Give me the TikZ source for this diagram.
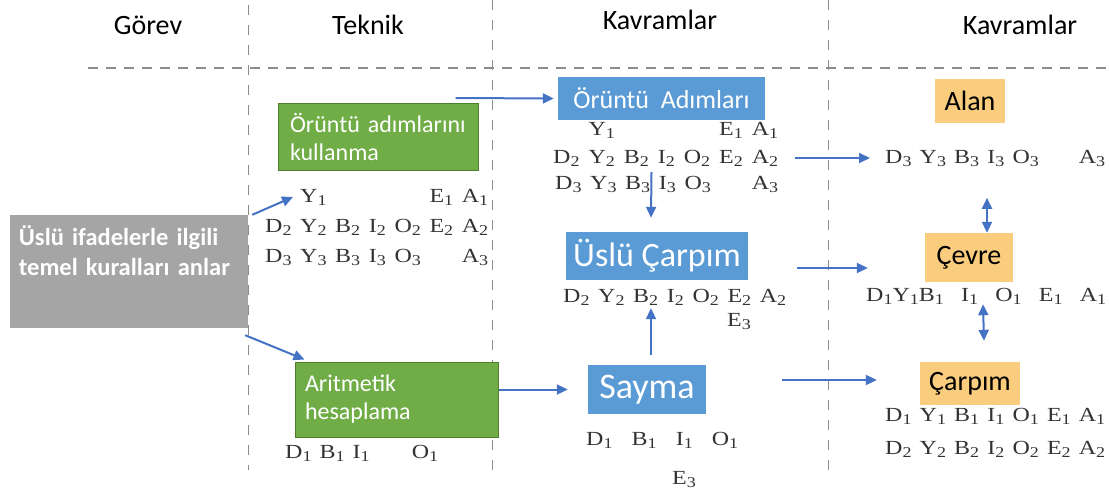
\documentclass[tikz,border=0pt]{standalone}
\usepackage{fontspec}
\setmainfont{Liberation Serif}
\newfontfamily\calibri{Carlito}
\newfontfamily\reihenfont[FakeStretch=1.2]{Liberation Serif}
\usetikzlibrary{arrows.meta}

\definecolor{gruen}{HTML}{70AD47}
\definecolor{gruenrand}{HTML}{4E7F30}
\definecolor{blau}{HTML}{5B9BD5}
\definecolor{pfeilblau}{HTML}{4472C4}
\definecolor{gelb}{HTML}{F9CC7E}
\definecolor{grau}{HTML}{A5A5A5}
\definecolor{linie}{HTML}{8C8C8C}

\newcommand{\ix}[2]{#1\raisebox{-3pt}{\fontsize{15}{15}\selectfont#2}}
\newcommand{\zeile}[2]{\makebox[#1][s]{#2}}

\begin{document}
\begin{tikzpicture}[x=1pt,y=-1pt,
  kopf/.style={font=\calibri\fontsize{28}{32}\selectfont},
  reihe/.style={anchor=west,inner sep=0pt,text=black!80,font=\reihenfont\fontsize{20}{24}\selectfont},
  kasten/.style={inner sep=0pt,text=white,font=\calibri\fontsize{24}{28}\selectfont},
  gruenbox/.style={kasten,fill=gruen,draw=gruenrand,line width=1pt,align=left},
  blaubox/.style={kasten,fill=blau},
  gelbbox/.style={inner sep=0pt,fill=gelb,font=\calibri\fontsize{28}{32}\selectfont},
  pfeil/.style={-{Triangle[length=11pt,width=10pt]},line width=2pt,pfeilblau},
  doppel/.style={pfeil,{Triangle[length=11pt,width=10pt]}-{Triangle[length=11pt,width=10pt]}},
  spalte/.style={linie,dash pattern=on 10pt off 10pt,line width=1pt}]

\useasboundingbox (0,0) rectangle (1109,493);

% Spalten
\draw[spalte] (248,5) -- (248,470);
\draw[spalte] (492,0) -- (492,470);
\draw[spalte] (828,0) -- (828,470);
\draw[linie,dash pattern=on 10pt off 8pt,line width=1.5pt] (88,68) -- (1109,68);

% Koepfe
\node[kopf] (gorev) at (148,25) {Görev};
\node[kopf] (teknik) at (368,25) {Teknik};
\node[kopf] (kavram1) at (660,20) {Kavramlar};
\node[kopf] (kavram2) at (1020,25) {Kavramlar};

% Kaesten
\node[fill=grau,minimum width=238pt,minimum height=113pt,text width=220pt,align=left,
      inner sep=0pt,text=white,font=\calibri\bfseries\fontsize{24.5}{30}\selectfont]
      (grau) at (129,271.5) {Üslü ifadelerle ilgili\\temel kuralları anlar\\[2pt]\strut};
\node[gruenbox,minimum width=200pt,minimum height=67pt,text width=176pt] (oa) at (378,136.5) {Örüntü adımlarını\\kullanma};
\node[gruenbox,minimum width=203pt,minimum height=75pt,text width=183pt] (ah) at (396.5,399.5) {Aritmetik\\hesaplama};
\node[blaubox,minimum width=207pt,minimum height=43pt,font=\calibri\fontsize{26}{30}\selectfont] (oad) at (661.5,98.5) {Örüntü\ \ Adımları};
\node[blaubox,minimum width=182pt,minimum height=48pt,font=\calibri\fontsize{34}{38}\selectfont] (usc) at (657,256) {Üslü Çarpım};
\node[blaubox,minimum width=118pt,minimum height=49pt,font=\calibri\fontsize{36}{40}\selectfont] (sayma) at (647,389.5) {Sayma};
\node[gelbbox,minimum width=70pt,minimum height=44pt] (alan) at (970,101) {Alan};
\node[gelbbox,minimum width=88pt,minimum height=49pt] (cevre) at (969,257.5) {Çevre};
\node[gelbbox,minimum width=100pt,minimum height=43pt] (carpim) at (970,383.5) {Çarpım};

% Teknik
\node[reihe] (t1) at (265,197) {\zeile{223pt}{\phantom{\ix D2} \ix Y1 \phantom{\ix B2} \phantom{\ix I2} \phantom{\ix O2} \ix E1 \ix A1}};
\node[reihe] (t2) at (265,227) {\zeile{223pt}{\ix D2 \ix Y2 \ix B2 \ix I2 \ix O2 \ix E2 \ix A2}};
\node[reihe] (t3) at (265,257) {\zeile{223pt}{\ix D3 \ix Y3 \ix B3 \ix I3 \ix O3 \phantom{\ix E3} \ix A3}};
\node[reihe] (t4) at (285,453) {\zeile{153pt}{\ix D1 \ix B1 \ix I1 \phantom{\ix Y1} \ix O1}};

% Kavramlar (mitte)
\node[reihe] (k1) at (553,130) {\zeile{225pt}{\phantom{\ix D2} \ix Y1 \phantom{\ix B2} \phantom{\ix I2} \phantom{\ix O2} \ix E1 \ix A1}};
\node[reihe] (k2) at (553,158) {\zeile{225pt}{\ix D2 \ix Y2 \ix B2 \ix I2 \ix O2 \ix E2 \ix A2}};
\node[reihe] (k3) at (555,184) {\zeile{223pt}{\ix D3 \ix Y3 \ix B3 \ix I3 \ix O3 \phantom{\ix E3} \ix A3}};
\node[reihe] (k4) at (563,297) {\zeile{223pt}{\ix D2 \ix Y2 \ix B2 \ix I2 \ix O2 \ix E2 \ix A2}};
\node[reihe] (k5) at (727,322) {\ix E3};
\node[reihe] (k6) at (586,440) {\zeile{152pt}{\ix D1 \ix B1 \ix I1 \ix O1}};
\node[reihe] (k7) at (672,480) {\ix E3};

% Kavramlar (rechts)
\node[reihe] (a1) at (885,158) {\zeile{220pt}{\ix D3 \ix Y3 \ix B3 \ix I3 \ix O3 \phantom{\ix E3} \ix A3}};
\node[reihe] (c1) at (866,296) {\zeile{240pt}{\ix D1\ix Y1\ix B1 \ix I1 \ix O1 \ix E1 \ix A1}};
\node[reihe] (p1) at (885,416) {\zeile{220pt}{\ix D1 \ix Y1 \ix B1 \ix I1 \ix O1 \ix E1 \ix A1}};
\node[reihe] (p2) at (885,449) {\zeile{220pt}{\ix D2 \ix Y2 \ix B2 \ix I2 \ix O2 \ix E2 \ix A2}};

% Pfeile
\draw[pfeil] ([xshift=-23pt,yshift=4.5pt]oa.north east) -- ([xshift=-4pt]oad.west);
\draw[pfeil] ([xshift=4pt]grau.north east) -- ([xshift=28pt]t1.west);
\draw[pfeil] ([xshift=-3pt,yshift=-7pt]grau.south east) -- ([xshift=10pt,yshift=2pt]ah.north west);
\draw[pfeil] ([yshift=10pt]ah.east) -- ([xshift=-20pt]sayma.west);
\draw[pfeil] ([xshift=-10pt,yshift=-52pt]oad.south) -- ([xshift=-6pt,yshift=14pt]usc.north);
\draw[pfeil] ([xshift=4pt,yshift=10pt]sayma.north) -- ([xshift=-6pt,yshift=-28pt]usc.south);
\draw[pfeil] ([xshift=17pt]k2.east) -- ([xshift=-15pt]a1.west);
\draw[pfeil] ([xshift=49pt,yshift=-12pt]usc.east) -- ([xshift=-57pt,yshift=-10.5pt]cevre.west);
\draw[pfeil] ([xshift=76pt,yshift=9.5pt]sayma.east) -- ([xshift=-43pt,yshift=3.5pt]carpim.west);
\draw[doppel] ([xshift=18pt,yshift=35pt]cevre.north) -- ([xshift=18pt]cevre.north);
\draw[doppel] ([xshift=14pt,yshift=-22pt]cevre.south) -- ([xshift=14pt,yshift=21pt]carpim.north);

\end{tikzpicture}
\end{document}
